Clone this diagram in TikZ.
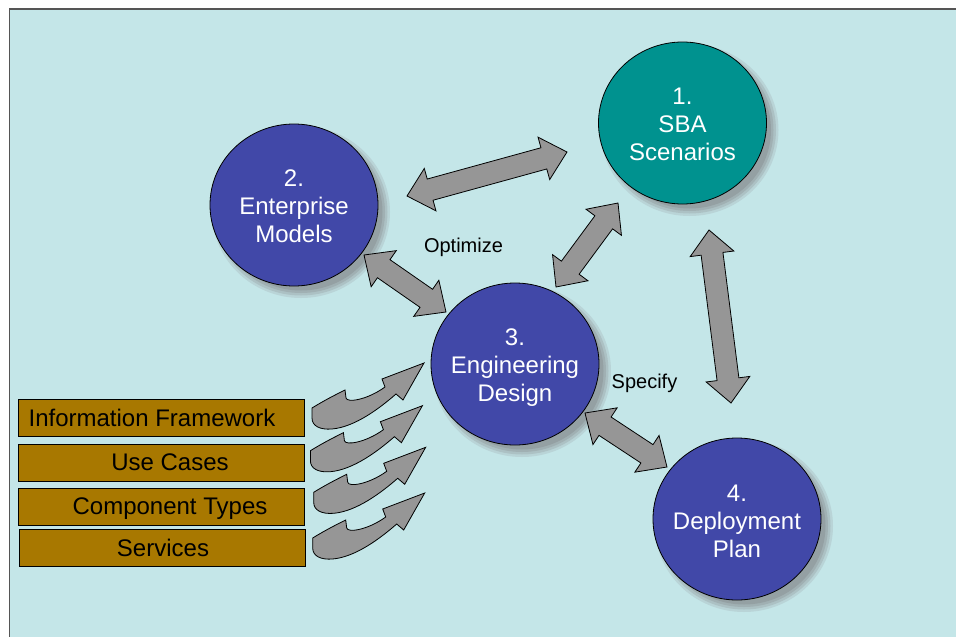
\documentclass[tikz,border=0pt]{standalone}
\usepackage{fontspec}
\setmainfont{Liberation Sans}
\usetikzlibrary{shapes.geometric,calc}

\definecolor{bgc}{RGB}{196,230,232}
\definecolor{tealc}{RGB}{0,146,143}
\definecolor{bluec}{RGB}{65,72,168}
\definecolor{brownc}{RGB}{168,120,0}
\definecolor{arrowc}{RGB}{150,150,150}
\definecolor{framec}{RGB}{85,85,85}
\definecolor{shA}{RGB}{185,212,215}
\definecolor{shB}{RGB}{172,193,196}
\definecolor{shC}{RGB}{160,176,179}
\definecolor{shD}{RGB}{148,160,163}

\newcommand\baSW{11pt}
\newcommand\baHW{22pt}
\newcommand\baHL{24pt}
\newcommand\blockarrow[2]{%
  \draw[barrow] (#1)
    -- ($(#1)!\baHL!(#2)!\baHW!90:(#2)$)
    -- ($(#1)!\baHL!(#2)!\baSW!90:(#2)$)
    -- ($(#2)!\baHL!(#1)!\baSW!-90:(#1)$)
    -- ($(#2)!\baHL!(#1)!\baHW!-90:(#1)$)
    -- (#2)
    -- ($(#2)!\baHL!(#1)!\baHW!90:(#1)$)
    -- ($(#2)!\baHL!(#1)!\baSW!90:(#1)$)
    -- ($(#1)!\baHL!(#2)!\baSW!-90:(#2)$)
    -- ($(#1)!\baHL!(#2)!\baHW!-90:(#2)$)
    -- cycle;}

\begin{document}
\begin{tikzpicture}[x=1pt,y=-1pt,
  phase/.style={ellipse, draw=black, line width=0.8pt,
    minimum width=168pt, minimum height=162pt, inner xsep=-8pt, inner ysep=0pt,
    text=white, align=center, font=\fontsize{24}{28}\selectfont},
  box/.style={draw=black, fill=brownc, line width=0.8pt,
    minimum width=286pt, minimum height=37pt, inner sep=0pt,
    font=\fontsize{24}{28}\selectfont, text height=17pt, text depth=1pt},
  barrow/.style={draw=black, fill=arrowc, line width=0.8pt, line join=miter},
  lbl/.style={font=\fontsize{20}{24}\selectfont, anchor=base, inner sep=0pt},
  curvedarrow/.pic={\draw[barrow] (-33,18) .. controls (-20,10) and (-10,5) .. (0,0)
     -- (1,8) .. controls (2,13) and (22,10) .. (40,-3) -- (37,-11) -- (79,-27)
     -- (58,10) -- (51,4) .. controls (35,18) and (10,37) .. (-13,39)
     .. controls (-25,40) and (-33,36) .. (-33,28) -- cycle;}
]
\useasboundingbox (0,0) rectangle (956,637);
\fill[white] (0,0) rectangle (956,637);
\fill[bgc] (9.5,9) rectangle (970,650);
\draw[framec, line width=1.5pt] (9.5,650) -- (9.5,9) -- (970,9);

% centres and soft shadows
\coordinate (p1) at (682.5,123);
\coordinate (p2) at (294,205);
\coordinate (p3) at (515,364);
\coordinate (p4) at (737,519);
\foreach \p in {p1,p2,p3,p4}{
  \fill[shA] (\p) ++(7,7) ellipse [x radius=89, y radius=86];
  \fill[shB] (\p) ++(7,7) ellipse [x radius=86.5, y radius=83.5];
  \fill[shC] (\p) ++(7,7) ellipse [x radius=84, y radius=81];
  \fill[shD] (\p) ++(7,7) ellipse [x radius=81.5, y radius=78.5];
}

% phases
\node[phase, fill=tealc] (c1) at (p1) {\rule{0pt}{19pt}1.\\SBA\\Scenarios};
\node[phase, fill=bluec] (c2) at (p2) {\rule{0pt}{20pt}2.\\Enterprise\\Models};
\node[phase, fill=bluec] (c3) at (p3) {\rule{0pt}{23pt}3.\\Engineering\\Design};
\node[phase, fill=bluec] (c4) at (p4) {\rule{0pt}{21pt}4.\\Deployment\\Plan};

% arrow end points
\coordinate (a12s) at (407,196);  \coordinate (a12e) at (567,152);
\coordinate (a23s) at (364,255);  \coordinate (a23e) at (446,312);
\coordinate (a31s) at (556,287);  \coordinate (a31e) at (618,203);
\coordinate (a14s) at (709,230);  \coordinate (a14e) at (731,403);
\coordinate (a34s) at (585,413);  \coordinate (a34e) at (667,467);

\blockarrow{a12s}{a12e}
\blockarrow{a23s}{a23e}
\blockarrow{a31s}{a31e}
\blockarrow{a14s}{a14e}
\blockarrow{a34s}{a34e}

\node[lbl] (opt) at (463.5,252.5) {Optimize};
\node[lbl] (spec) at (644.5,388) {Specify};

% inputs
\node[box] (b1) at (161,418) {Information Framework\hspace*{18pt}};
\node[box] (b2) at (161,462.5) {\hspace*{18pt}Use Cases};
\node[box] (b3) at (161,506.5) {\hspace*{18pt}Component Types};
\node[box] (b4) at (162,548) {\hspace*{2pt}Services};

\pic (ca1) at (345,390) {curvedarrow};
\pic (ca2) at (343.4,432.7) {curvedarrow};
\pic (ca3) at (346.7,474.3) {curvedarrow};
\pic (ca4) at (345.7,520) {curvedarrow};
\end{tikzpicture}
\end{document}
